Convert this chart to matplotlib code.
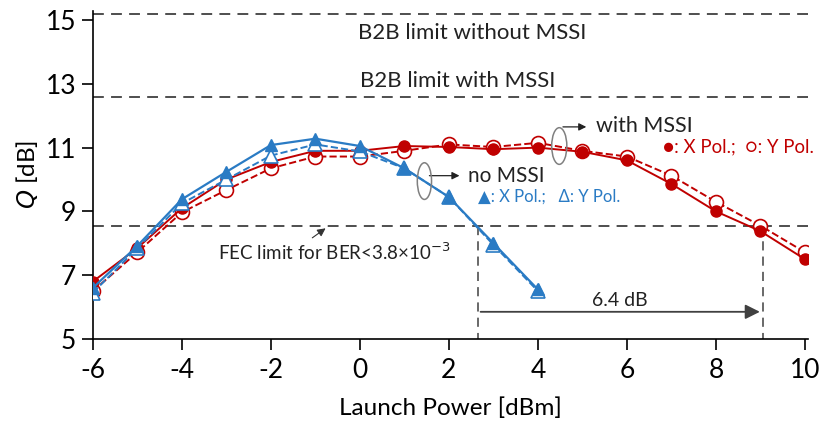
import matplotlib
matplotlib.use("Agg")
import matplotlib.pyplot as plt
from matplotlib.patches import Ellipse

plt.rcParams['font.family'] = ['Lato', 'DejaVu Sans']
plt.rcParams['axes.unicode_minus'] = False

power = [-6, -5, -4, -3, -2, -1, 0, 1, 2, 3, 4, 5, 6, 7, 8, 9, 10]
power_no = [-6, -5, -4, -3, -2, -1, 0, 1, 2, 3, 4]

mssi_x = [6.8, 7.85, 9.1, 10.0, 10.55, 10.9, 10.9, 11.05, 11.02, 10.95, 11.0, 10.87, 10.6, 9.86, 9.0, 8.38, 7.5]
mssi_y = [6.5, 7.72, 8.97, 9.67, 10.35, 10.72, 10.72, 10.9, 11.1, 11.02, 11.15, 10.9, 10.72, 10.12, 9.3, 8.55, 7.72]
no_x = [6.6, 7.92, 9.38, 10.24, 11.08, 11.28, 11.05, 10.35, 9.45, 8.0, 6.55]
no_y = [6.45, 7.85, 9.25, 10.0, 10.75, 11.1, 10.88, 10.35, 9.45, 7.95, 6.5]

limits = [15.2, 12.6, 8.55]
p_no, p_with = 2.65, 9.05

red = '#C00000'
blue = '#2A7BC4'

fig = plt.figure(figsize=(8.22, 4.21), dpi=100)
ax = fig.add_axes([0.113, 0.195, 0.870, 0.780])

for lv in limits:
    ax.axhline(lv, color='#404040', lw=1.3, ls=(0, (6, 4)), zorder=1)

ax.plot([p_no, p_no], [limits[2], 5], color='#404040', lw=1.1, ls=(0, (6, 4)), zorder=1)
ax.plot([p_with, p_with], [limits[2], 5], color='#404040', lw=1.1, ls=(0, (6, 4)), zorder=1)

ax.plot(power, mssi_y, color=red, ls='--', lw=1.4, marker='o', ms=10, mfc='white', mec=red, mew=1.2, zorder=3)
ax.plot(power, mssi_x, color=red, ls='-', lw=1.4, marker='o', ms=8, mfc=red, mec=red, zorder=4)
ax.plot(power_no, no_y, color=blue, ls='--', lw=1.4, marker='^', ms=10, mfc='white', mec=blue, mew=1.2, zorder=5)
ax.plot(power_no, no_x, color=blue, ls='-', lw=1.6, marker='^', ms=9, mfc=blue, mec=blue, zorder=6)

ax.set_xlim(-6, 10.07)
ax.set_ylim(5, 15.3)
ax.set_xticks([-6, -4, -2, 0, 2, 4, 6, 8, 10])
ax.set_yticks([5, 7, 9, 11, 13, 15])
ax.spines['top'].set_visible(False)
ax.spines['right'].set_visible(False)
ax.spines['left'].set_linewidth(1.2)
ax.spines['bottom'].set_linewidth(1.2)
ax.tick_params(axis='y', direction='out', length=8, width=1.2, labelsize=19, pad=4)
ax.tick_params(axis='x', direction='out', length=8, width=1.2, labelsize=19, pad=6)
ax.set_xlabel('Launch Power [dBm]', fontsize=17.5, labelpad=10)
ax.set_ylabel(r'$\it{Q}$ [dB]', fontsize=17.5, labelpad=4)

ax.text(-0.05, 14.59, 'B2B limit without MSSI', fontsize=16, ha='left', va='center', color='#222222')
ax.text(0.0, 13.1, 'B2B limit with MSSI', fontsize=16, ha='left', va='center', color='#222222')
ax.text(-3.19, 7.71, 'FEC limit for BER<3.8×10$^{-3}$', fontsize=13.5, ha='left', va='center', color='#222222')
ax.annotate('', xy=(-0.72, 8.52), xytext=(-1.12, 8.12),
            arrowprops=dict(arrowstyle='-|>', color='#333333', lw=0.8, mutation_scale=12))

ax.annotate('', xy=(p_with, 5.85), xytext=(p_no, 5.85),
            arrowprops=dict(arrowstyle='-|>', color='#404040', lw=1.3, mutation_scale=22))
ax.text((p_no + p_with) / 2, 6.2, '6.4 dB', fontsize=14, ha='center', va='center', color='#222222')

ax.add_patch(Ellipse((4.48, 11.05), 0.34, 1.15, fill=False, ec='#808080', lw=1.1, zorder=7))
ax.annotate('', xy=(5.15, 11.65), xytext=(4.5, 11.65),
            arrowprops=dict(arrowstyle='-|>', color='#222222', lw=0.9, mutation_scale=11))
ax.text(5.3, 11.69, 'with MSSI', fontsize=15.5, ha='left', va='center', color='#222222')
ax.text(6.8, 11.03, '●: X Pol.;  ○: Y Pol.', fontsize=13.4, ha='left', va='center', color=red)

ax.add_patch(Ellipse((1.45, 9.95), 0.32, 1.15, fill=False, ec='#808080', lw=1.1, zorder=7))
ax.annotate('', xy=(2.3, 10.12), xytext=(1.5, 10.12),
            arrowprops=dict(arrowstyle='-|>', color='#222222', lw=0.9, mutation_scale=11))
ax.text(2.42, 10.1, 'no MSSI', fontsize=15, ha='left', va='center', color='#222222')
ax.text(2.65, 9.45, '▲: X Pol.;   Δ: Y Pol.', fontsize=12, ha='left', va='center', color=blue)

fig.savefig('out.png', dpi=100)
